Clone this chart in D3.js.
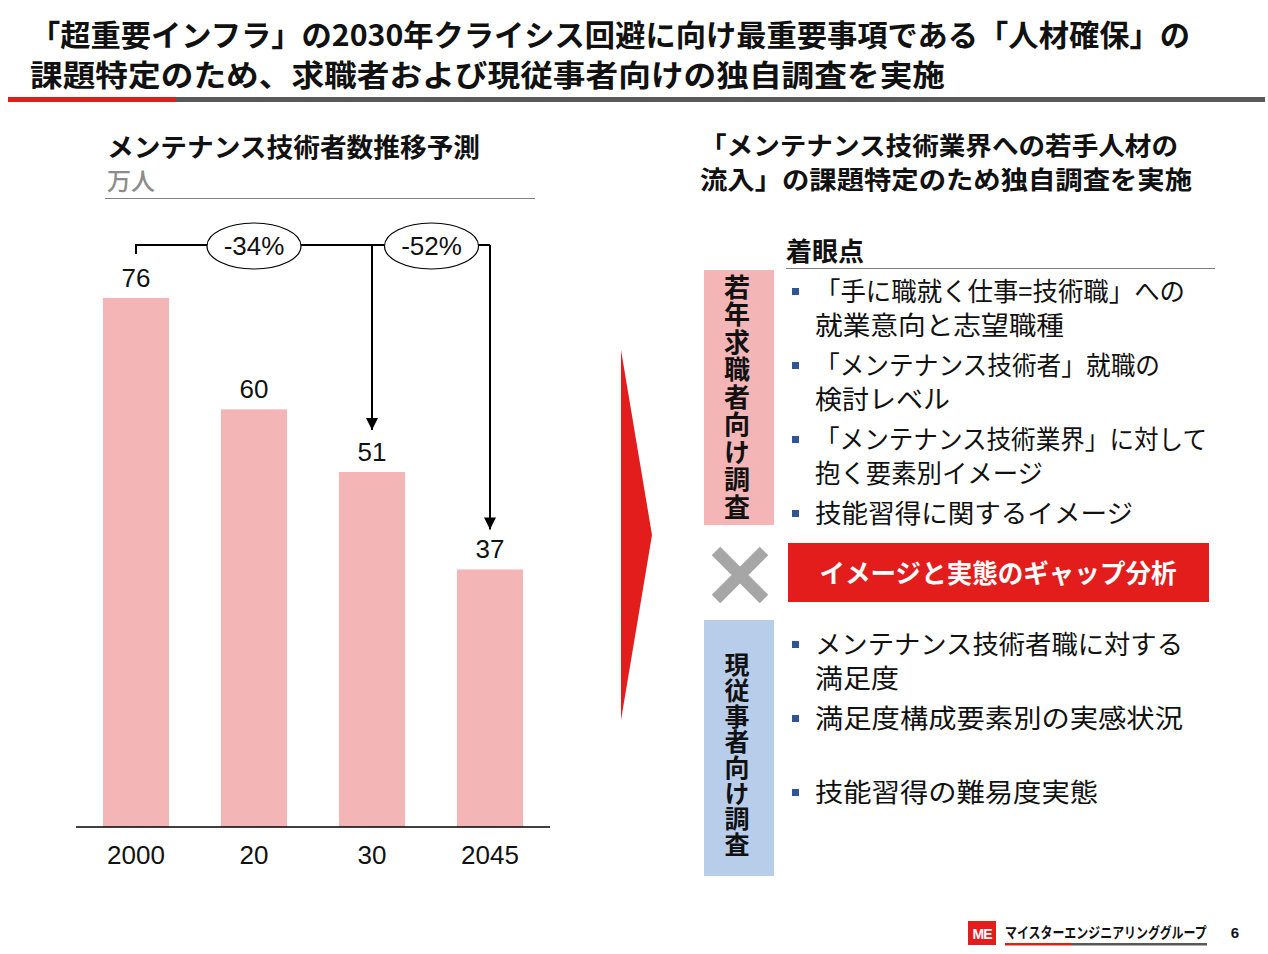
<!DOCTYPE html>
<html><head><meta charset="utf-8">
<script src="https://cdn.jsdelivr.net/npm/d3@7"></script>
<style>
html,body{margin:0;padding:0;background:#fff;}
svg{display:block;}
</style></head>
<body>
<svg id="c" width="1268" height="954"></svg>
<script>
// ---- data ----
const titleLines = ["「超重要インフラ」の2030年クライシス回避に向け最重要事項である「人材確保」の",
                    "課題特定のため、求職者および現従事者向けの独自調査を実施"];
const chartTitle = "メンテナンス技術者数推移予測";
const unitLabel = "万人";
const categories = ["2000", "20", "30", "2045"];
const values = [76, 60, 51, 37];
const changeLabels = ["-34%", "-52%"];
const rightTitle = ["「メンテナンス技術業界への若手人材の", "流入」の課題特定のため独自調査を実施"];
const focusLabel = "着眼点";
const youthLabel = "若年求職者向け調査";
const workerLabel = "現従事者向け調査";
const youthBullets = [
  ["「手に職就く仕事=技術職」への", "就業意向と志望職種"],
  ["「メンテナンス技術者」就職の", "検討レベル"],
  ["「メンテナンス技術業界」に対して", "抱く要素別イメージ"],
  ["技能習得に関するイメージ"]
];
const workerBullets = [
  ["メンテナンス技術者職に対する", "満足度"],
  ["満足度構成要素別の実感状況", ""],
  ["技能習得の難易度実態"]
];
const gapLabel = "イメージと実態のギャップ分析";
const logoText = "マイスターエンジニアリンググループ";
const pageNum = "6";

const lineRight = {
  "「手に職就く仕事=技術職」への": 1185, "就業意向と志望職種": 1064,
  "「メンテナンス技術者」就職の": 1160, "検討レベル": 950,
  "「メンテナンス技術業界」に対して": 1207, "抱く要素別イメージ": 1043,
  "技能習得に関するイメージ": 1133, "メンテナンス技術者職に対する": 1183,
  "満足度": 899, "満足度構成要素別の実感状況": 1183, "技能習得の難易度実態": 1098
};

// ---- drawing ----
const svg = d3.select("#c");
const JP = "'Noto Sans CJK JP','Noto Sans',sans-serif";
const NUM = "'Liberation Sans',Arial,sans-serif";
const RED = "#e31c1c";

function fitText(sel, w) {
  sel.each(function () {
    const L = this.getComputedTextLength();
    if (L > 0) d3.select(this).attr("textLength", w).attr("lengthAdjust", "spacingAndGlyphs");
  });
}

// Title
svg.append("g").selectAll("text").data(titleLines).join("text")
  .attr("x", 30).attr("y", (d, i) => 46 + i * 40)
  .attr("font-family", JP).attr("font-weight", 700).attr("font-size", 30)
  .attr("fill", "#111").text(d => d)
  .each(function (d, i) { fitText(d3.select(this), i === 0 ? 1160 : 915); });
svg.append("rect").attr("x", 8).attr("y", 97).attr("width", 168).attr("height", 5).attr("fill", RED);
svg.append("rect").attr("x", 176).attr("y", 97).attr("width", 1089).attr("height", 5).attr("fill", "#595959");

// Left chart title
svg.append("text").attr("x", 107).attr("y", 157)
  .attr("font-family", JP).attr("font-weight", 700).attr("font-size", 26).attr("fill", "#111")
  .text(chartTitle).call(s => fitText(s, 373));
svg.append("text").attr("x", 107).attr("y", 190)
  .attr("font-family", JP).attr("font-weight", 500).attr("font-size", 24).attr("fill", "#8c8c8c").text(unitLabel);
svg.append("line").attr("x1", 105).attr("x2", 535).attr("y1", 198.5).attr("y2", 198.5)
  .attr("stroke", "#808080").attr("stroke-width", 1.2);

// Bar chart
const x = d3.scaleBand().domain(categories).range([77, 549]).paddingInner(0.44).paddingOuter(0.22);
const y = d3.scaleLinear().domain([0, 76]).range([827, 298]);

svg.append("g").selectAll("rect").data(values).join("rect")
  .attr("x", (d, i) => x(categories[i])).attr("width", x.bandwidth())
  .attr("y", d => y(d)).attr("height", d => y(0) - y(d))
  .attr("fill", "#f4b5b6");

const xAxis = svg.append("g").attr("transform", `translate(0,${y(0)})`)
  .call(d3.axisBottom(x).tickSize(0).tickPadding(0));
xAxis.select(".domain").attr("d", "M-1,0H473").attr("transform", "translate(77,0)")
  .attr("stroke", "#000").attr("stroke-width", 1.5);
xAxis.selectAll(".tick text").attr("font-family", NUM).attr("font-size", 26)
  .attr("fill", "#111").attr("dy", null).attr("y", 37);

svg.append("g").selectAll("text").data(values).join("text")
  .attr("x", (d, i) => x(categories[i]) + x.bandwidth() / 2)
  .attr("y", d => y(d) - 11)
  .attr("text-anchor", "middle").attr("font-family", NUM).attr("font-size", 26)
  .attr("fill", "#111").text(d => d);

// Bracket & arrows
const cx = i => x(categories[i]) + x.bandwidth() / 2;
const by = 245;
svg.append("defs").append("marker").attr("id", "ah").attr("viewBox", "0 0 10 10")
  .attr("refX", 10).attr("refY", 5).attr("markerWidth", 6).attr("markerHeight", 6)
  .attr("markerUnits", "strokeWidth").attr("orient", "auto")
  .append("path").attr("d", "M0,0L10,5L0,10z").attr("fill", "#000");

const br = svg.append("g").attr("stroke", "#000").attr("stroke-width", 2).attr("fill", "none");
br.append("path").attr("d", `M${cx(0)},${y(values[0]) - 44}V${by}H${cx(3)}`);
br.append("line").attr("x1", cx(2)).attr("x2", cx(2)).attr("y1", by).attr("y2", y(values[2]) - 42)
  .attr("marker-end", "url(#ah)");
br.append("line").attr("x1", cx(3)).attr("x2", cx(3)).attr("y1", by).attr("y2", y(values[3]) - 40)
  .attr("marker-end", "url(#ah)");

const eg = svg.append("g");
changeLabels.forEach((lab, i) => {
  const ex = i === 0 ? cx(1) : (cx(2) + cx(3)) / 2 + 0.5;
  eg.append("ellipse").attr("cx", ex).attr("cy", by + 1).attr("rx", 47).attr("ry", 23)
    .attr("fill", "#fff").attr("stroke", "#000").attr("stroke-width", 1.2);
  eg.append("text").attr("x", ex).attr("y", by + 10).attr("text-anchor", "middle")
    .attr("font-family", NUM).attr("font-size", 26).attr("fill", "#111").text(lab);
});

// Red arrow
svg.append("path").attr("d", "M621,350L652,535L621,720Z").attr("fill", RED);

// Right title
svg.append("g").selectAll("text").data(rightTitle).join("text")
  .attr("x", 700).attr("y", (d, i) => 155 + i * 34)
  .attr("font-family", JP).attr("font-weight", 700).attr("font-size", 25.5).attr("fill", "#111")
  .text(d => d)
  .each(function (d, i) { fitText(d3.select(this), i === 0 ? 478 : 492); });

svg.append("text").attr("x", 786).attr("y", 261)
  .attr("font-family", JP).attr("font-weight", 700).attr("font-size", 26).attr("fill", "#111")
  .text(focusLabel);
svg.append("line").attr("x1", 786).attr("x2", 1215).attr("y1", 268.5).attr("y2", 268.5)
  .attr("stroke", "#808080").attr("stroke-width", 1.2);

// Category boxes with vertical text
function vbox(label, y0, h, fill, fs, spacing, off) {
  svg.append("rect").attr("x", 704).attr("y", y0).attr("width", 70).attr("height", h).attr("fill", fill);
  svg.append("text").attr("x", 737).attr("y", y0 + h / 2 + off)
    .attr("text-anchor", "middle")
    .style("writing-mode", "vertical-rl")
    .attr("font-family", JP).attr("font-weight", 700).attr("font-size", fs)
    .attr("letter-spacing", spacing).attr("fill", "#111").text(label);
}
vbox(youthLabel, 270, 255, "#f4b5b6", 26, 1.5, 0);
vbox(workerLabel, 620, 256, "#b8cde9", 25, 0.7, 7);

// Bullets
function bullets(list, y0) {
  let yy = y0;
  const g = svg.append("g");
  list.forEach(lines => {
    g.append("rect").attr("x", 792).attr("y", yy - 4).attr("width", 7).attr("height", 7).attr("fill", "#2f5597");
    lines.forEach((ln, j) => {
      if (!ln) return;
      const t = g.append("text").attr("x", 815).attr("y", yy + 9 + j * 34)
        .attr("font-family", JP).attr("font-size", 26).attr("fill", "#111").text(ln);
      if (lineRight[ln]) fitText(t, lineRight[ln] - 815);
    });
    yy += (lines.length - 1) * 34 + 40;
  });
}
bullets(youthBullets, 292);
bullets(workerBullets, 645);

// Gray X
svg.append("path").attr("d", "M716,551L764,599M764,551L716,599")
  .attr("stroke", "#a6a6a6").attr("stroke-width", 12);

// Red box
svg.append("rect").attr("x", 788).attr("y", 543).attr("width", 421).attr("height", 59).attr("fill", RED);
svg.append("text").attr("x", 998).attr("y", 583).attr("text-anchor", "middle")
  .attr("font-family", JP).attr("font-weight", 700).attr("font-size", 26).attr("fill", "#fff")
  .text(gapLabel).call(s => fitText(s, 357));

// Footer
svg.append("rect").attr("x", 968).attr("y", 921).attr("width", 28).attr("height", 24).attr("fill", RED);
svg.append("text").attr("x", 982).attr("y", 939).attr("text-anchor", "middle")
  .attr("font-family", NUM).attr("font-weight", 700).attr("font-size", 14).attr("fill", "#fff")
  .attr("letter-spacing", -1).text("ME");
const logo = svg.append("text").attr("x", 0).attr("y", 0)
  .attr("font-family", JP).attr("font-weight", 700).attr("font-size", 15).attr("fill", "#111")
  .text(logoText);
const lw = logo.node().getComputedTextLength() || 255;
logo.attr("transform", `translate(1005,938) scale(${202 / lw},1)`);
svg.append("rect").attr("x", 1005).attr("y", 943).attr("width", 67).attr("height", 2.5).attr("fill", RED);
svg.append("rect").attr("x", 1072).attr("y", 943).attr("width", 135).attr("height", 2.5).attr("fill", "#595959");
svg.append("text").attr("x", 1235).attr("y", 938).attr("text-anchor", "middle")
  .attr("font-family", NUM).attr("font-weight", 700).attr("font-size", 15).attr("fill", "#111").text(pageNum);
</script>
</body></html>
